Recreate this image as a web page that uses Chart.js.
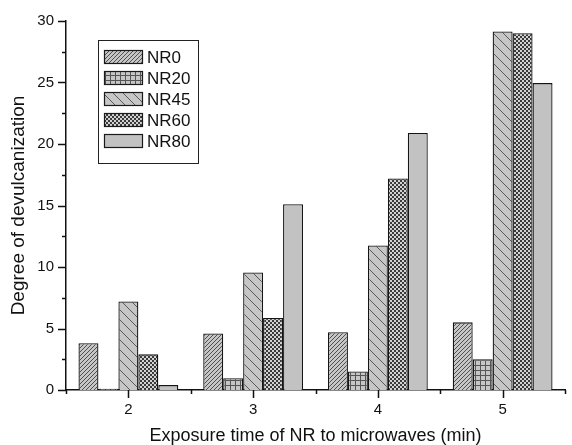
<!DOCTYPE html>
<html>
<head>
<meta charset="utf-8">
<script src="https://cdn.jsdelivr.net/npm/chart.js@4.4.1/dist/chart.umd.min.js"></script>
<style>
    html, body { margin: 0; padding: 0; background: #fff; }
    #wrap { width: 572px; height: 445px; }
</style>
</head>
<body>
<div id="wrap"><canvas id="chart-devulc"></canvas></div>
<script>
const times = ['2', '3', '4', '5'];
const seriesNames = ['NR0', 'NR20', 'NR45', 'NR60', 'NR80'];
const nr0 = [3.8, 4.6, 4.7, 5.5];
const nr20 = [0.1, 0.95, 1.5, 2.5];
const nr45 = [7.2, 9.55, 11.75, 29.15];
const nr60 = [2.9, 5.85, 17.2, 29.0];
const nr80 = [0.4, 15.1, 20.9, 24.95];
const yTicks = [0, 5, 10, 15, 20, 25, 30];

const FONT = "'Liberation Sans', Arial, sans-serif";

// Build small repeating fill patterns (hatches like the original plot)
function makePattern(kind) {
    const c = document.createElement('canvas');
    const ctx = c.getContext('2d');
    let n = 4;
    if (kind === 'grid') n = 5;
    if (kind === 'back') n = 10;
    c.width = n; c.height = n;
    ctx.fillStyle = kind === 'check' ? '#d2d2d2' : '#c6c6c6';
    ctx.fillRect(0, 0, n, n);
    ctx.strokeStyle = '#505050';
    ctx.lineWidth = 1;
    if (kind === 'fwd') {
        ctx.beginPath();
        ctx.moveTo(-1, n + 1); ctx.lineTo(n + 1, -1);
        ctx.moveTo(-1, 1); ctx.lineTo(1, -1);
        ctx.moveTo(n - 1, n + 1); ctx.lineTo(n + 1, n - 1);
        ctx.stroke();
    } else if (kind === 'back') {
        ctx.strokeStyle = '#5a5a5a';
        ctx.beginPath();
        ctx.moveTo(-1, -1); ctx.lineTo(n + 1, n + 1);
        ctx.moveTo(n - 1, -1); ctx.lineTo(n + 1, 1);
        ctx.moveTo(-1, n - 1); ctx.lineTo(1, n + 1);
        ctx.stroke();
    } else if (kind === 'grid') {
        ctx.fillStyle = '#555';
        ctx.fillRect(0, 0, 1, n);
        ctx.fillRect(0, 0, n, 1);
    } else if (kind === 'check') {
        ctx.fillStyle = '#3a3a3a';
        ctx.fillRect(0, 0, 2, 2);
        ctx.fillRect(2, 2, 2, 2);
    } else {
        ctx.fillStyle = '#c2c2c2';
        ctx.fillRect(0, 0, n, n);
    }
    return ctx.createPattern(c, 'repeat');
}

const fills = ['fwd', 'grid', 'back', 'check', 'plain'].map(makePattern);
const values = [nr0, nr20, nr45, nr60, nr80];

// Outward major/minor ticks drawn off the library scales
const axisTicks = {
    id: 'axisTicks',
    afterDraw(chart) {
        const ctx = chart.ctx;
        const x = chart.scales.x, y = chart.scales.y;
        const area = chart.chartArea;
        ctx.save();
        ctx.strokeStyle = '#111';
        ctx.lineWidth = 1.5;
        ctx.beginPath();
        for (let v = 0; v <= 30; v += 2.5) {
            const py = Math.round(y.getPixelForValue(v)) + 0.5;
            const len = v % 5 === 0 ? 8 : 4;
            ctx.moveTo(area.left, py); ctx.lineTo(area.left - len, py);
        }
        times.forEach((t, i) => {
            const px = Math.round(x.getPixelForValue(i)) + 0.5;
            ctx.moveTo(px, area.bottom); ctx.lineTo(px, area.bottom + 8);
        });
        for (let i = 0; i <= times.length; i++) {
            const px = Math.round(x.getPixelForValue(i - 0.5)) + 0.5;
            ctx.moveTo(px, area.bottom); ctx.lineTo(px, area.bottom + 4);
        }
        ctx.stroke();
        ctx.restore();
    }
};

// Boxed legend inside the plot, top left
const boxLegend = {
    id: 'boxLegend',
    afterDraw(chart) {
        const ctx = chart.ctx;
        const left = 98, top = 40, w = 100, h = 123;
        ctx.save();
        ctx.fillStyle = '#fff';
        ctx.fillRect(left, top, w, h);
        ctx.strokeStyle = '#222';
        ctx.lineWidth = 1;
        ctx.strokeRect(left + 0.5, top + 0.5, w, h);
        ctx.font = '17px ' + FONT;
        ctx.textBaseline = 'middle';
        chart.data.datasets.forEach((ds, i) => {
            const cy = top + 17 + i * 21;
            ctx.fillStyle = ds.backgroundColor;
            ctx.fillRect(104, cy - 7, 39, 14);
            ctx.strokeStyle = '#1a1a1a';
            ctx.lineWidth = 1.2;
            ctx.strokeRect(104.5, cy - 6.5, 38, 13);
            ctx.fillStyle = '#111';
            ctx.fillText(ds.label, 147, cy + 1);
        });
        ctx.restore();
    }
};

new Chart(document.getElementById('chart-devulc'), {
    type: 'bar',
    data: {
        labels: times,
        datasets: seriesNames.map((name, i) => ({
            label: name,
            data: values[i],
            backgroundColor: fills[i],
            borderColor: '#151515',
            borderWidth: 1.3,
            categoryPercentage: 0.8,
            barPercentage: 1.0
        }))
    },
    options: {
        responsive: true, maintainAspectRatio: false,
        animation: false,
        layout: { padding: { top: 19, right: 7, left: 0, bottom: 0 } },
        plugins: { legend: { display: false }, tooltip: { enabled: false } },
        scales: {
            x: {
                offset: true,
                grid: { display: false, drawTicks: false },
                border: { display: true, color: '#111', width: 1.5 },
                ticks: { color: '#111', padding: 11, font: { family: FONT, size: 15 } },
                title: { display: true, text: 'Exposure time of NR to microwaves (min)', color: '#111',
                    padding: { top: 0, bottom: 0 }, font: { family: FONT, size: 18, lineHeight: 1.0 } },
                afterFit(scale) { scale.height = 55; }
            },
            y: {
                min: 0, max: 30,
                afterBuildTicks(scale) { scale.ticks = yTicks.map(v => ({ value: v })); },
                grid: { display: false, drawTicks: false },
                border: { display: true, color: '#111', width: 1.5 },
                ticks: { color: '#111', padding: 12, font: { family: FONT, size: 15 } },
                title: { display: true, text: 'Degree of devulcanization', color: '#111',
                    padding: { top: 7, bottom: 0 }, font: { family: FONT, size: 19, lineHeight: 1.2 } },
                afterFit(scale) { scale.width = 66; }
            }
        }
    },
    plugins: [axisTicks, boxLegend]
});
</script>
</body>
</html>
